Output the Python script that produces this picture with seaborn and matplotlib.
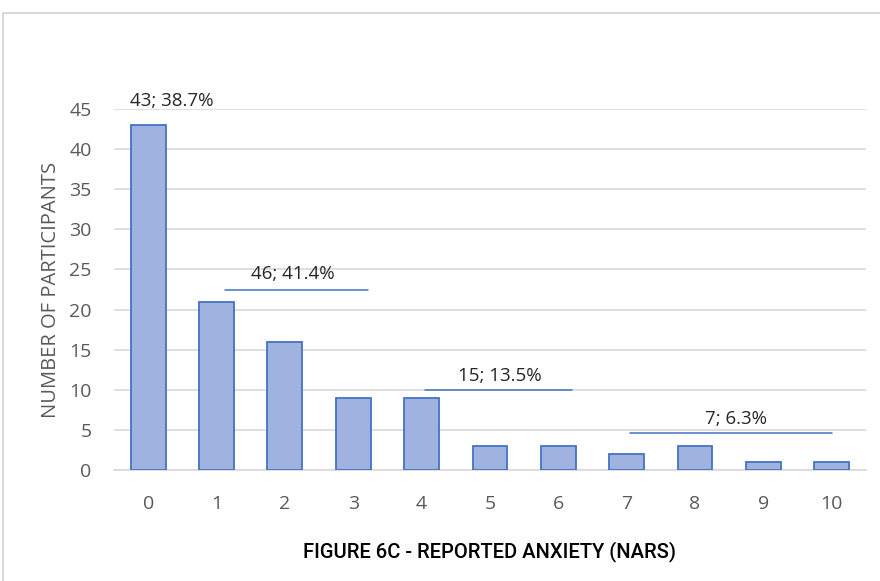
import matplotlib
matplotlib.use("Agg")
import matplotlib.pyplot as plt
import seaborn as sns
import pandas as pd
from matplotlib.patches import Rectangle

# data
scores = [0, 1, 2, 3, 4, 5, 6, 7, 8, 9, 10]
counts = [43, 21, 16, 9, 9, 3, 3, 2, 3, 1, 1]
group_labels = ["43; 38.7%", "46; 41.4%", "15; 13.5%", "7; 6.3%"]
group_spans = [None, (1.13, 3.22), (4.05, 6.2), (7.05, 10.0)]
group_line_y = [None, 22.4, 10.0, 4.6]

sns.set_style("white")
plt.rcParams['font.family'] = ['Open Sans', 'DejaVu Sans']

df = pd.DataFrame({"score": [str(s) for s in scores], "count": counts})

fig = plt.figure(figsize=(8.8, 5.81), dpi=100)
ax = fig.add_axes([0.1295, 0.191, 0.8545, 0.6214])

sns.barplot(data=df, x="score", y="count", color="#9FB2E0", width=0.51,
            edgecolor="#4472C4", linewidth=1.3, saturation=1, ax=ax, zorder=3)

ax.set_ylim(0, 45)
ax.set_xlim(-0.5, 10.5)
ax.set_yticks(range(0, 46, 5))
ax.yaxis.grid(True, color="#D9D9D9", linewidth=1.2, zorder=0)
ax.set_axisbelow(True)
for s in ["top", "right", "left"]:
    ax.spines[s].set_visible(False)
ax.spines["bottom"].set_color("#D9D9D9")
ax.spines["bottom"].set_linewidth(1.2)
ax.tick_params(axis="both", length=0, labelsize=14, labelcolor="#595959")
ax.tick_params(axis="y", pad=16)
ax.tick_params(axis="x", pad=18)

ax.set_ylabel("NUMBER OF PARTICIPANTS", fontsize=14.5, color="#595959", labelpad=6)
ax.set_xlabel("FIGURE 6C - REPORTED ANXIETY (NARS)", fontsize=14.5, color="black",
              family=["Roboto", "DejaVu Sans"], fontweight="medium", labelpad=20)

# group annotations
ax.text(0.35, 46, group_labels[0], ha="center", va="center", fontsize=13.5, clip_on=False)
text_pos = [None, (2.12, 24.4), (5.15, 11.7), (8.6, 6.4)]
for i in range(1, 4):
    x0, x1 = group_spans[i]
    ax.plot([x0, x1], [group_line_y[i]] * 2, color="#4472C4", linewidth=1.1, zorder=4)
    tx, ty = text_pos[i]
    ax.text(tx, ty, group_labels[i], ha="center", va="center", fontsize=13.5, zorder=5)

# outer chart frame
fig.patches.append(Rectangle((3 / 880, -0.01), 1.0, 1 - 13 / 581 + 0.01, transform=fig.transFigure,
                             fill=False, edgecolor="#D9D9D9", linewidth=1.5))

fig.savefig("out.png", dpi=100)
